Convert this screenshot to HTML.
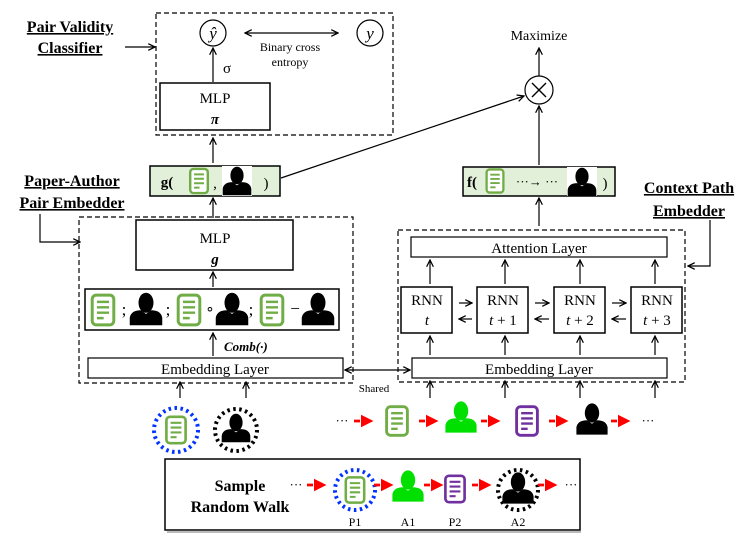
<!DOCTYPE html>
<html><head><meta charset="utf-8"><style>
html,body{margin:0;padding:0;background:#fff;}
svg{display:block;font-family:"Liberation Serif",serif;}
</style></head><body>
<svg width="747" height="541" viewBox="0 0 747 541" xmlns="http://www.w3.org/2000/svg">
<defs>
<marker id="ah" viewBox="0 0 10 10" refX="9" refY="5" markerWidth="7" markerHeight="7" orient="auto-start-reverse"><path d="M1,1 L9,5 L1,9" fill="none" stroke="#000" stroke-width="1.5"/></marker>
<marker id="rh" viewBox="0 0 10 10" refX="8" refY="5" markerWidth="4.5" markerHeight="4.5" orient="auto"><path d="M0,0 L10,5 L0,10 z" fill="#f00"/></marker>
<g id="pg"><rect x="-8" y="-11" width="16" height="22" rx="3" fill="#fff" stroke="#70ad47" stroke-width="2.2"/><path d="M-4.5,-6H4.5M-4.5,-2H4.5M-4.5,2H4.5M-4.5,6H0.5" stroke="#70ad47" stroke-width="1.8"/></g>
<g id="pp"><rect x="-8" y="-11" width="16" height="22" rx="3" fill="#fff" stroke="#7030a0" stroke-width="2.2"/><path d="M-4.5,-6H4.5M-4.5,-2H4.5M-4.5,2H4.5M-4.5,6H0.5" stroke="#7030a0" stroke-width="1.8"/></g>
<g id="au"><ellipse cx="0" cy="-5" rx="6" ry="8"/><path d="M-13,13 L-13,7 Q-12,1 -4,1 L0,4 L4,1 Q12,1 13,7 L13,13 Z"/></g>
</defs>
<g fill="none" stroke="#000" stroke-width="1.2">
<rect x="156" y="13" width="237" height="122" stroke-dasharray="5,3"/>
<circle cx="213" cy="33" r="13"/><circle cx="370" cy="33" r="13"/>
<line x1="245" y1="33" x2="338" y2="33" marker-start="url(#ah)" marker-end="url(#ah)"/>
<line x1="213" y1="82" x2="213" y2="48" marker-end="url(#ah)"/>
<rect x="160" y="83" width="110" height="47" stroke-width="1.5"/>
<line x1="125" y1="47" x2="155" y2="47" marker-end="url(#ah)"/>
<line x1="213" y1="163" x2="213" y2="138" marker-end="url(#ah)"/>
<rect x="150" y="166" width="130" height="30" fill="#e2efd9" stroke-width="1.5"/>
<line x1="281" y1="178" x2="524" y2="96" marker-end="url(#ah)"/>
<line x1="213" y1="218" x2="213" y2="198" marker-end="url(#ah)"/>
<polyline points="40,214 40,242 80,242" marker-end="url(#ah)"/>
<rect x="79" y="217" width="274" height="166" stroke-dasharray="5,3"/>
<rect x="136" y="220" width="157" height="50" stroke-width="1.5"/>
<line x1="213" y1="287" x2="213" y2="272" marker-end="url(#ah)"/>
<rect x="85" y="289" width="254" height="41" stroke-width="1.5"/>
<line x1="213" y1="356" x2="213" y2="333" marker-end="url(#ah)"/>
<rect x="88" y="358" width="255" height="20"/>
<line x1="180" y1="398" x2="180" y2="382" marker-end="url(#ah)"/>
<line x1="246" y1="398" x2="246" y2="382" marker-end="url(#ah)"/>
<line x1="345" y1="370" x2="410" y2="370" marker-start="url(#ah)" marker-end="url(#ah)"/>
<circle cx="539" cy="90" r="14"/>
<path d="M532,83 L546,97 M546,83 L532,97" stroke-width="1.4"/>
<line x1="539" y1="76" x2="539" y2="48" marker-end="url(#ah)"/>
<line x1="539" y1="165" x2="539" y2="106" marker-end="url(#ah)"/>
<rect x="463" y="167" width="152" height="29" fill="#e2efd9" stroke-width="1.5"/>
<line x1="539" y1="226" x2="539" y2="198" marker-end="url(#ah)"/>
<polyline points="710,220 710,266 688,266" marker-end="url(#ah)"/>
<rect x="398" y="230" width="287" height="152" stroke-dasharray="5,3"/>
<rect x="411" y="237" width="256" height="20"/>
<rect x="401" y="287" width="51" height="46" stroke-width="1.5"/>
<rect x="477" y="287" width="51" height="46" stroke-width="1.5"/>
<rect x="554" y="287" width="51" height="46" stroke-width="1.5"/>
<rect x="631" y="287" width="51" height="46" stroke-width="1.5"/>
<rect x="412" y="358" width="255" height="20"/>
<g>
<line x1="430" y1="284" x2="430" y2="260" marker-end="url(#ah)"/>
<line x1="505" y1="284" x2="505" y2="260" marker-end="url(#ah)"/>
<line x1="580" y1="284" x2="580" y2="260" marker-end="url(#ah)"/>
<line x1="655" y1="284" x2="655" y2="260" marker-end="url(#ah)"/>
<line x1="430" y1="355" x2="430" y2="336" marker-end="url(#ah)"/>
<line x1="505" y1="355" x2="505" y2="336" marker-end="url(#ah)"/>
<line x1="580" y1="355" x2="580" y2="336" marker-end="url(#ah)"/>
<line x1="655" y1="355" x2="655" y2="336" marker-end="url(#ah)"/>
<line x1="430" y1="398" x2="430" y2="381" marker-end="url(#ah)"/>
<line x1="505" y1="398" x2="505" y2="381" marker-end="url(#ah)"/>
<line x1="580" y1="398" x2="580" y2="381" marker-end="url(#ah)"/>
<line x1="655" y1="398" x2="655" y2="381" marker-end="url(#ah)"/>
<line x1="459" y1="303" x2="472" y2="303" marker-end="url(#ah)"/>
<line x1="472" y1="319" x2="459" y2="319" marker-end="url(#ah)"/>
<line x1="535" y1="303" x2="549" y2="303" marker-end="url(#ah)"/>
<line x1="549" y1="319" x2="535" y2="319" marker-end="url(#ah)"/>
<line x1="612" y1="303" x2="626" y2="303" marker-end="url(#ah)"/>
<line x1="626" y1="319" x2="612" y2="319" marker-end="url(#ah)"/>
</g>
<rect x="165" y="459" width="415" height="71" stroke-width="1.5" fill="#fff"/>
<line x1="167" y1="532" x2="581" y2="532" stroke="#bbb" stroke-width="2"/>
<circle cx="176" cy="430" r="22" stroke="#0033ff" stroke-width="4" stroke-dasharray="2.5,3.5"/>
<circle cx="236" cy="430" r="21" stroke="#000" stroke-width="4" stroke-dasharray="2.5,3.5"/>
<circle cx="355" cy="490" r="20" stroke="#0033ff" stroke-width="4" stroke-dasharray="2.5,3.5"/>
<circle cx="518" cy="490" r="20" stroke="#000" stroke-width="4" stroke-dasharray="2.5,3.5"/>
</g>
<g stroke="#f00" stroke-width="2.8" stroke-dasharray="6,3" marker-end="url(#rh)">
<line x1="354" y1="421" x2="371" y2="421"/>
<line x1="419" y1="421" x2="436" y2="421"/>
<line x1="481" y1="421" x2="498" y2="421"/>
<line x1="549" y1="421" x2="566" y2="421"/>
<line x1="611" y1="421" x2="628" y2="421"/>
<line x1="307" y1="485" x2="324" y2="485"/>
<line x1="374" y1="485" x2="391" y2="485"/>
<line x1="424" y1="485" x2="441" y2="485"/>
<line x1="472" y1="485" x2="489" y2="485"/>
<line x1="538" y1="485" x2="555" y2="485"/>
</g>
<use href="#pg" transform="translate(176,430) scale(1.2)"/>
<use href="#au" transform="translate(236,428) scale(1.1)"/>
<use href="#pg" transform="translate(397,421) scale(1.3)"/>
<g fill="#00e000"><use href="#au" transform="translate(461,417) scale(1.2)"/></g>
<use href="#pp" transform="translate(527,421) scale(1.3)"/>
<use href="#au" transform="translate(592,419) scale(1.2)"/>
<use href="#pg" transform="translate(355,490) scale(1.15)"/>
<g fill="#00e000"><use href="#au" transform="translate(408,486) scale(1.2)"/></g>
<use href="#pp" transform="translate(455,489) scale(1.2)"/>
<use href="#au" transform="translate(518,488) scale(1.2)"/>
<use href="#pg" transform="translate(199,181) scale(1.1)"/>
<rect x="222" y="166" width="30" height="30" fill="#fff"/>
<use href="#au" transform="translate(237,181) scale(1.1)"/>
<use href="#pg" transform="translate(495,181) scale(1.05)"/>
<rect x="567" y="167" width="30" height="29" fill="#fff"/>
<use href="#au" transform="translate(582,182) scale(1.1)"/>
<use href="#pg" transform="translate(103,310) scale(1.35)"/>
<use href="#au" transform="translate(146,309) scale(1.25)"/>
<use href="#pg" transform="translate(189,310) scale(1.35)"/>
<use href="#au" transform="translate(232,309) scale(1.25)"/>
<use href="#pg" transform="translate(272,310) scale(1.35)"/>
<use href="#au" transform="translate(318,309) scale(1.25)"/>
<g font-size="15" fill="#000" text-anchor="middle">
<text x="213" y="39" font-style="italic" font-size="17">ŷ</text>
<text x="370" y="39" font-style="italic" font-size="17">y</text>
<text x="290" y="51" font-size="12">Binary cross</text>
<text x="290" y="66" font-size="12">entropy</text>
<text x="227" y="73" font-size="15">σ</text>
<text x="215" y="103">MLP</text>
<text x="215" y="124" font-weight="bold" font-style="italic">π</text>
<text x="215" y="243">MLP</text>
<text x="215" y="264" font-weight="bold" font-style="italic">g</text>
<text x="167" y="187" font-weight="bold" font-size="15">g(</text>
<text x="215" y="188">,</text>
<text x="266" y="188">)</text>
<text x="124" y="315" font-size="17">;</text>
<text x="168" y="315" font-size="17">;</text>
<text x="210" y="314">∘</text>
<text x="251" y="315" font-size="17">;</text>
<text x="295" y="314" font-size="17">−</text>
<text x="224" y="351" font-size="13" font-weight="bold" font-style="italic" text-anchor="start">Comb(·)</text>
<text x="215" y="374">Embedding Layer</text>
<text x="539" y="374">Embedding Layer</text>
<text x="539" y="253">Attention Layer</text>
<text x="427" y="305">RNN</text><text x="427" y="325" font-style="italic">t</text>
<text x="503" y="305">RNN</text><text x="503" y="325"><tspan font-style="italic">t</tspan> + 1</text>
<text x="580" y="305">RNN</text><text x="580" y="325"><tspan font-style="italic">t</tspan> + 2</text>
<text x="657" y="305">RNN</text><text x="657" y="325"><tspan font-style="italic">t</tspan> + 3</text>
<text x="374" y="392" font-size="11">Shared</text>
<text x="539" y="40" font-size="14">Maximize</text>
<text x="472" y="187" font-weight="bold">f(</text>
<text x="537" y="186" font-size="13">···→ ···</text>
<text x="605" y="188">)</text>
<text x="70" y="32" font-weight="bold" font-size="16" text-decoration="underline">Pair Validity</text>
<text x="70" y="53" font-weight="bold" font-size="16" text-decoration="underline">Classifier</text>
<text x="72" y="186" font-weight="bold" font-size="16" text-decoration="underline">Paper-Author</text>
<text x="72" y="208" font-weight="bold" font-size="16" text-decoration="underline">Pair Embedder</text>
<text x="689" y="193" font-weight="bold" font-size="16" text-decoration="underline">Context Path</text>
<text x="689" y="216" font-weight="bold" font-size="16" text-decoration="underline">Embedder</text>
<text x="240" y="491" font-weight="bold" font-size="16">Sample</text>
<text x="240" y="512" font-weight="bold" font-size="16">Random Walk</text>
<text x="296" y="489" font-size="13">···</text>
<text x="342" y="425" font-size="13">···</text>
<text x="648" y="425" font-size="13">···</text>
<text x="571" y="489" font-size="13">···</text>
<text x="355" y="526" font-size="12">P1</text>
<text x="408" y="526" font-size="12">A1</text>
<text x="455" y="526" font-size="12">P2</text>
<text x="518" y="526" font-size="12">A2</text>
</g>
</svg>
</body></html>
